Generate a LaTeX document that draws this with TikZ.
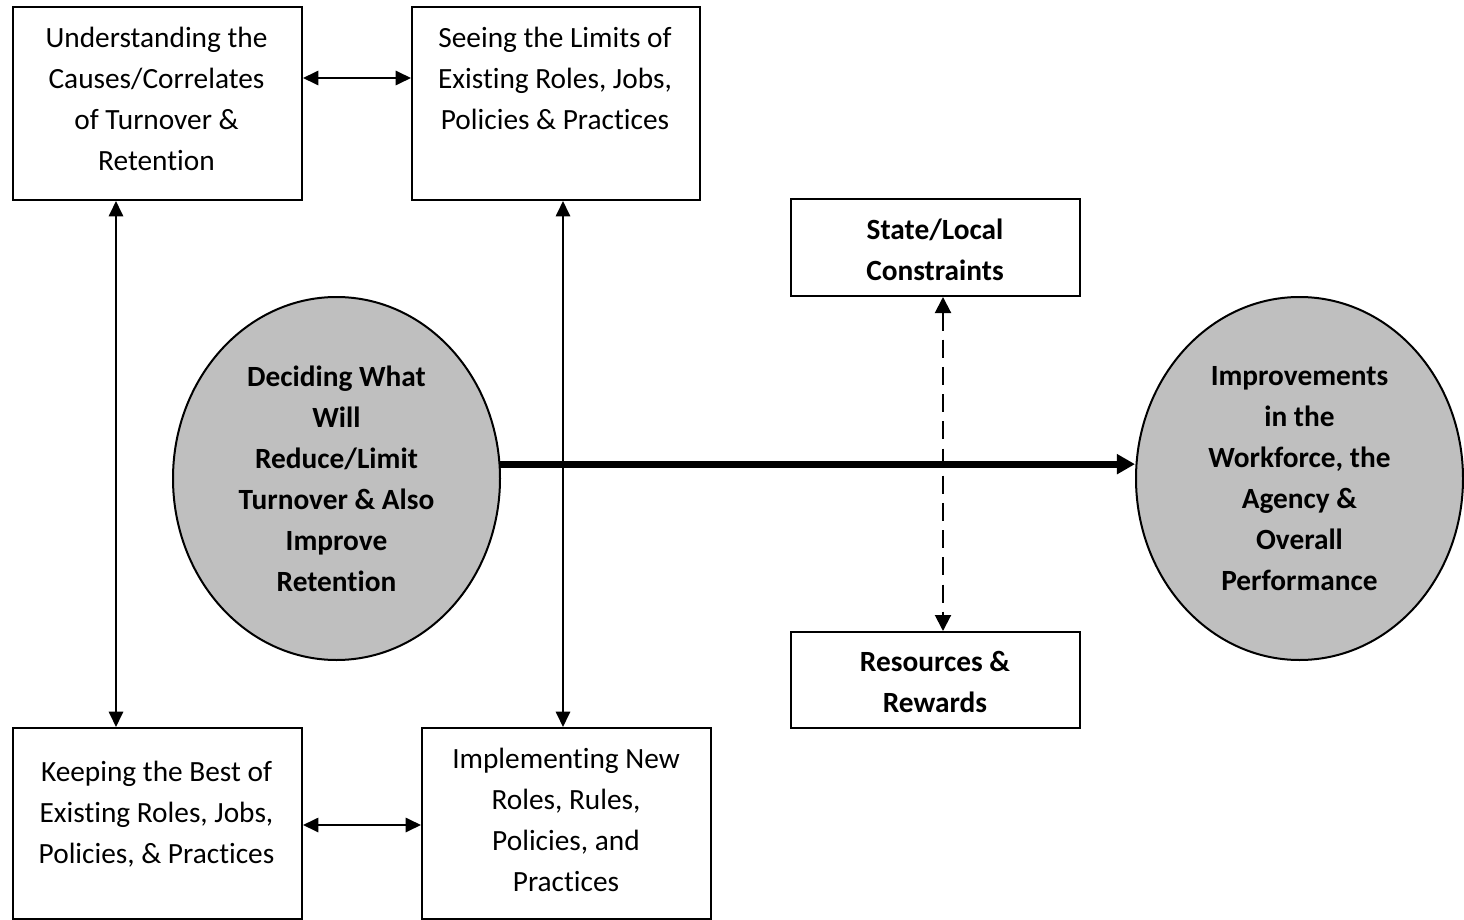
\documentclass[tikz,border=0pt]{standalone}
\usepackage{fontspec}
\setmainfont{Carlito}
\usetikzlibrary{arrows.meta,shapes.geometric}
\newdimen\pxu
\pxu=0.375pt
% keeps "t" and "i" as separate glyphs
\newcommand\nl{\kern0pt}
\begin{document}
\begin{tikzpicture}[x=0.375pt,y=-0.375pt,
  box/.style={draw, line width=0.75pt, rectangle, inner sep=0pt, anchor=north west},
  txt/.style={align=center, inner sep=0pt, font=\fontsize{11pt}{15.375pt}\selectfont},
  btxt/.style={txt, font=\fontsize{11pt}{15.375pt}\selectfont\bfseries},
  oval/.style={ellipse, draw, line width=0.75pt, fill=gray!50, inner sep=0pt,
    minimum width=327\pxu, minimum height=363\pxu, align=center,
    font=\fontsize{11pt}{15.375pt}\selectfont\bfseries},
  link/.style={line width=0.75pt, {Triangle[length=5.8pt,width=5.4pt]}-{Triangle[length=5.8pt,width=5.4pt]}},
  dlink/.style={line width=0.75pt, dash pattern=on 6.8pt off 3.4pt,
    {Triangle[length=6pt,width=6pt]}-{Triangle[length=6pt,width=6pt]}},
  flow/.style={line width=2.6pt, -{Triangle[length=6.8pt,width=7.2pt]}}
]
\useasboundingbox (0,0) rectangle (1464,920);

% rectangular boxes
\node[box, minimum width=289\pxu, minimum height=193\pxu] (b1) at (12,6) {};
\node[box, minimum width=288\pxu, minimum height=193\pxu] (b2) at (411,6) {};
\node[box, minimum width=289\pxu, minimum height=97\pxu] (b3) at (790,198) {};
\node[box, minimum width=289\pxu, minimum height=96\pxu] (b4) at (790,631) {};
\node[box, minimum width=289\pxu, minimum height=191\pxu] (b5) at (12,727) {};
\node[box, minimum width=289\pxu, minimum height=191\pxu] (b6) at (421,727) {};

% box labels
\node[txt] (t1) at (156.5,98.5) {Understanding the\\Causes/Correlates\\of Turnover \&\\Retent\nl ion};
\node[txt] (t2) at (555,78) {Seeing the Limits of\\Exist\nl ing Roles, Jobs,\\Policies \& Pract\nl ices};
\node[btxt] (t3) at (935,249.5) {State/Local\\Constraints};
\node[btxt] (t4) at (935,682) {Resources \&\\Rewards};
\node[txt] (t5) at (156.5,814) {Keeping the Best of\\Exist\nl ing Roles, Jobs,\\Policies, \& Pract\nl ices};
\node[txt] (t6) at (566,819.5) {Implement\nl ing New\\Roles, Rules,\\Policies, and\\Pract\nl ices};

% ovals
\node[oval] (e1) at (336.5,478.5) {Deciding What\\Will\\Reduce/Limit\\Turnover \& Also\\Improve\\Retent\nl ion};
\node[oval] (e2) at (1299.5,478.5) {Improvements\\in the\\Workforce, the\\Agency \&\\Overall\\Performance};

% connectors
\draw[link] ([yshift=25.5\pxu]b1.east) -- ([yshift=25.5\pxu]b2.west);
\draw[link] ([xshift=-41.5\pxu]b1.south) -- ([xshift=-41.5\pxu]b5.north);
\draw[link] ([xshift=7\pxu]b2.south) -- ([xshift=-3.5\pxu]b6.north);
\draw[link] ([yshift=-1.5\pxu]b5.east) -- ([yshift=-1.5\pxu]b6.west);
\draw[dlink] ([xshift=7.5\pxu]b3.south) -- ([xshift=7.5\pxu]b4.north);
\draw[flow] (e1.5.26) -- (e1.5.26 -| e2.west);
\end{tikzpicture}
\end{document}
